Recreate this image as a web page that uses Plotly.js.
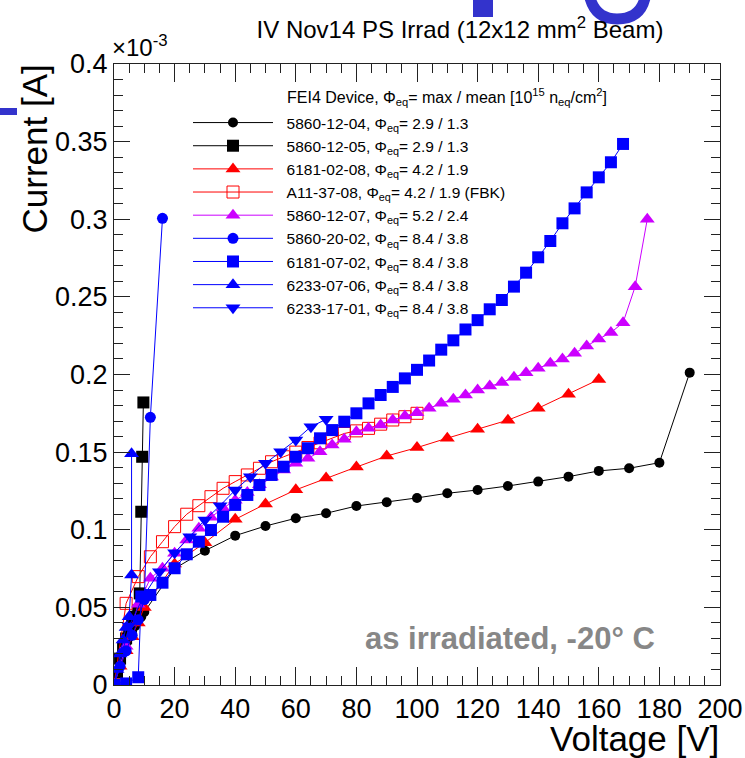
<!DOCTYPE html>
<html>
<head>
<meta charset="utf-8">
<script src="https://cdn.plot.ly/plotly-3.0.1.min.js"></script>
<style>html,body{margin:0;padding:0;background:#fff;}#chart{width:745px;height:758px;}</style>
</head>
<body>
<div id="chart"></div>
<script>
// ---- data (Voltage [V], Current [A] x 1e-3) ----
const names = [
  "5860-12-04, Φ<sub>eq</sub>= 2.9 / 1.3",
  "5860-12-05, Φ<sub>eq</sub>= 2.9 / 1.3",
  "6181-02-08, Φ<sub>eq</sub>= 4.2 / 1.9",
  "A11-37-08, Φ<sub>eq</sub>= 4.2 / 1.9 (FBK)",
  "5860-12-07, Φ<sub>eq</sub>= 5.2 / 2.4",
  "5860-20-02, Φ<sub>eq</sub>= 8.4 / 3.8",
  "6181-07-02, Φ<sub>eq</sub>= 8.4 / 3.8",
  "6233-07-06, Φ<sub>eq</sub>= 8.4 / 3.8",
  "6233-17-01, Φ<sub>eq</sub>= 8.4 / 3.8"
];

const v_5860_12_04 = [0,1,2,3,4,5,6,7,8,9,10,20,30,40,50,60,70,80,90,100,110,120,130,140,150,160,170,180,190];
const i_5860_12_04 = [0,0.008,0.016,0.022,0.027,0.031,0.035,0.038,0.041,0.044,0.047,0.075,0.0865,0.0962,0.1024,0.1074,0.1106,0.1153,0.1177,0.1205,0.1235,0.1256,0.1282,0.1310,0.1342,0.1379,0.1396,0.1432,0.2012];

const v_5860_12_05 = [0,1,2,3,4,5,6,7,8,8.5,9,9.3,9.7];
const i_5860_12_05 = [0,0.008,0.017,0.024,0.030,0.035,0.040,0.044,0.048,0.059,0.1116,0.147,0.182];

const v_6181_02_08 = [0,2,4,6,8,10,20,30,40,50,60,70,80,90,100,110,120,130,140,150,160];
const i_6181_02_08 = [0,0.012,0.022,0.031,0.040,0.050,0.078,0.0917,0.1067,0.1166,0.1257,0.1333,0.1404,0.1475,0.1529,0.1590,0.1648,0.1706,0.1783,0.1873,0.1968];

const v_A11_37_08 = [0,4,8,12,16,20,24,28,32,36,40,44,48,52,56,60,64,68,72,76,80,84,88,92,96,100];
const i_A11_37_08 = [0,0.0526,0.0698,0.0826,0.0923,0.102,0.110,0.1155,0.1213,0.1267,0.131,0.1353,0.1396,0.1438,0.147,0.150,0.153,0.156,0.159,0.162,0.1637,0.1653,0.168,0.1707,0.1728,0.175];

const v_5860_12_07 = [0,4,8,12,16,20,24,28,32,36,40,44,48,52,56,60,64,68,72,76,80,84,88,92,96,100,104,108,112,116,120,124,128,132,136,140,144,148,152,156,160,164,168,172,176];
const i_5860_12_07 = [0,0.025,0.052,0.0687,0.0752,0.0848,0.0934,0.101,0.108,0.114,0.119,0.124,0.129,0.134,0.1385,0.1428,0.146,0.1503,0.1546,0.1583,0.1632,0.1653,0.1675,0.1707,0.1733,0.1754,0.1782,0.1815,0.184,0.1868,0.19,0.1926,0.1948,0.1982,0.2012,0.204,0.2072,0.21,0.2137,0.2184,0.2229,0.227,0.2334,0.2566,0.300];

const v_5860_20_02 = [0,2,4,6,8,10,12,16];
const i_5860_20_02 = [0,0.012,0.022,0.032,0.042,0.055,0.1724,0.3006];

const v_6181_07_02 = [0,4,8,9,12,16,20,24,28,32,36,40,44,48,52,56,60,64,68,72,76,80,84,88,92,96,100,104,108,112,116,120,124,128,132,136,140,144,148,152,156,160,164,168];
const i_6181_07_02 = [0,0.001,0.005,0.057,0.058,0.0659,0.0752,0.0842,0.0923,0.0998,0.1084,0.116,0.1224,0.1288,0.1353,0.1406,0.147,0.1525,0.1589,0.1642,0.1696,0.175,0.1814,0.1868,0.192,0.1975,0.203,0.209,0.216,0.222,0.229,0.235,0.242,0.248,0.2566,0.2656,0.2755,0.286,0.2974,0.307,0.3173,0.327,0.3367,0.3485];

const v_6233_07_06 = [0,1,2,3,4,5,5.8,5.8];
const i_6233_07_06 = [0,0.010,0.020,0.029,0.037,0.044,0.0708,0.149];

const v_6233_17_01 = [0,5,10,15,20,25,30,35,40,45,50,55,60,65,70];
const i_6233_17_01 = [0,0.038,0.058,0.073,0.0852,0.0955,0.1063,0.1155,0.1256,0.1342,0.1428,0.1503,0.1578,0.1664,0.1711];

const xTicks = [0,20,40,60,80,100,120,140,160,180,200];
const yTicks = [0,0.05,0.1,0.15,0.2,0.25,0.3,0.35,0.4];

// ---- styling ----
const FONT = "Liberation Sans, Arial, Helvetica, sans-serif";
const BLACK = "#000000", RED = "#ff0000", MAG = "#cc00ff", BLUE = "#0000ff";
const SLIDE_BLUE = "#3333cc";
const PAD = "\u00a0\u00a0";

function tr(x, y, name, color, symbol, size, lw) {
  return {
    x: x, y: y, name: PAD + name, type: "scatter", mode: "lines+markers",
    line: {color: color, width: 1},
    marker: {color: color, symbol: symbol, size: size, line: {color: color, width: lw || 0}},
    cliponaxis: true
  };
}

const data = [
  tr(v_5860_12_04, i_5860_12_04, names[0], BLACK, "circle", 10),
  tr(v_5860_12_05, i_5860_12_05, names[1], BLACK, "square", 12),
  tr(v_6181_02_08, i_6181_02_08, names[2], RED, "triangle-up", 13),
  tr(v_A11_37_08, i_A11_37_08, names[3], RED, "square-open", 12, 1),
  tr(v_5860_12_07, i_5860_12_07, names[4], MAG, "triangle-up", 13),
  tr(v_5860_20_02, i_5860_20_02, names[5], BLUE, "circle", 11),
  tr(v_6181_07_02, i_6181_07_02, names[6], BLUE, "square", 12),
  tr(v_6233_07_06, i_6233_07_06, names[7], BLUE, "triangle-up", 13),
  tr(v_6233_17_01, i_6233_17_01, names[8], BLUE, "triangle-down", 13)
];

const L = 114, R = 25, T = 64, B = 73, W = 745, H = 758;
const pw = W - L - R, ph = H - T - B;
const px = (p) => (p - L) / pw;
const py = (p) => (H - B - p) / ph;

const axisCommon = {
  showgrid: false, zeroline: false, showline: true, linecolor: "#222", linewidth: 1,
  mirror: "ticks", ticks: "inside", tickcolor: "#222", tickwidth: 1,
  tickfont: {family: FONT, size: 27, color: "#000"}
};

const bowl = "M " + px(590) + "," + py(-2) + " Q " + px(596) + "," + py(19) + " " + px(617) + "," + py(19) +
             " Q " + px(640) + "," + py(19) + " " + px(645) + "," + py(-2);

const layout = {
  width: W, height: H,
  margin: {l: L, r: R, t: T, b: B, pad: 0},
  paper_bgcolor: "#fff", plot_bgcolor: "#fff",
  font: {family: FONT, color: "#000"},
  showlegend: true,
  title: {
    text: "IV Nov14 PS Irrad (12x12 mm<sup>2</sup> Beam)",
    font: {family: FONT, size: 24, color: "#000"},
    x: 460 / W, xref: "container", xanchor: "center",
    y: 1 - 30 / H, yref: "container", yanchor: "middle"
  },
  xaxis: Object.assign({}, axisCommon, {
    range: [0, 200], tickvals: xTicks, ticklen: 18,
    minor: {dtick: 5, ticklen: 9, ticks: "inside", tickcolor: "#222", showgrid: false}
  }),
  yaxis: Object.assign({}, axisCommon, {
    range: [0, 0.4], tickvals: yTicks, ticklen: 16,
    minor: {dtick: 0.01, ticklen: 9, ticks: "inside", tickcolor: "#222", showgrid: false}
  }),
  legend: {
    x: px(188), y: py(106), xanchor: "left", yanchor: "top",
    bgcolor: "rgba(0,0,0,0)", borderwidth: 0,
    font: {family: FONT, size: 15.5, color: "#000"},
    itemwidth: 80, tracegroupgap: 0
  },
  annotations: [
    {xref: "paper", yref: "paper", x: px(285), y: py(97), xanchor: "left", yanchor: "middle", showarrow: false,
     text: "FEI4 Device, Φ<sub>eq</sub>= max / mean [10<sup>15</sup> n<sub>eq</sub>/cm<sup>2</sup>]",
     font: {family: FONT, size: 16, color: "#000"}},
    {xref: "paper", yref: "paper", x: px(510), y: py(638), xanchor: "center", yanchor: "middle", showarrow: false,
     text: "<b>as irradiated, -20° C</b>", font: {family: FONT, size: 31, color: "#878787"}},
    {xref: "paper", yref: "paper", x: px(110), y: py(46), xanchor: "left", yanchor: "middle", showarrow: false,
     text: "×10<sup>-3</sup>", font: {family: FONT, size: 24, color: "#000"}},
    {xref: "paper", yref: "paper", x: px(34), y: py(63), xanchor: "center", yanchor: "top", showarrow: false,
     textangle: -90, text: "Current [A]", font: {family: FONT, size: 35, color: "#000"}},
    {xref: "paper", yref: "paper", x: px(721), y: py(738), xanchor: "right", yanchor: "middle", showarrow: false,
     text: "Voltage [V]", font: {family: FONT, size: 35, color: "#000"}}
  ],
  shapes: [
    {type: "rect", xref: "paper", yref: "paper", x0: px(0), x1: px(17), y0: py(115), y1: py(108),
     fillcolor: SLIDE_BLUE, line: {width: 0}, layer: "above"},
    {type: "rect", xref: "paper", yref: "paper", x0: px(473), x1: px(493), y0: py(17), y1: py(-2),
     fillcolor: SLIDE_BLUE, line: {width: 0}, layer: "above"},
    {type: "path", xref: "paper", yref: "paper", path: bowl,
     line: {color: SLIDE_BLUE, width: 11}, layer: "above"}
  ]
};

Plotly.newPlot("chart", data, layout, {staticPlot: true, displayModeBar: false});
</script>
</body>
</html>
